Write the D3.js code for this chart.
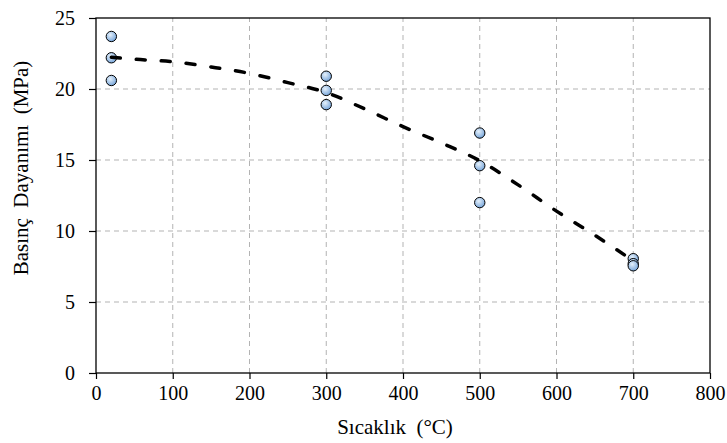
<!DOCTYPE html>
<html>
<head>
<meta charset="utf-8">
<script src="https://cdn.jsdelivr.net/npm/d3@7"></script>
<style>
  body { margin: 0; background: #fff; }
  svg text { font-family: "Times New Roman", "Liberation Serif", serif; fill: #000; }
</style>
</head>
<body>
<script>
// Measured points (temperature, strength)
const tempPoints = [20, 20, 20, 300, 300, 300, 500, 500, 500, 700, 700, 700];
const strengthPoints = [23.7, 22.2, 20.6, 20.9, 19.9, 18.9, 16.9, 14.6, 12.0, 8.05, 7.7, 7.55];

// Trend curve
const trendTemp = [20, 50, 100, 150, 200, 250, 300, 350, 400, 450, 500, 550, 600, 650, 700];
const trendStrength = [22.24, 22.1, 21.92, 21.55, 21.1, 20.45, 19.75, 18.6, 17.35, 16.2, 14.95, 13.25, 11.4, 9.7, 7.9];

const xTicks = [0, 100, 200, 300, 400, 500, 600, 700, 800];
const yTicks = [0, 5, 10, 15, 20, 25];

const width = 727;
const height = 443;
const margin = { top: 18, right: 17, bottom: 70, left: 96 };

const svg = d3.select('body')
    .append('svg')
    .attr('width', width)
    .attr('height', height);

const x = d3.scaleLinear().domain([0, 800]).range([margin.left, width - margin.right]);
const y = d3.scaleLinear().domain([0, 25]).range([height - margin.bottom, margin.top]);

// Radial fill for markers
const grad = svg.append('defs')
    .append('radialGradient')
    .attr('id', 'dot')
    .attr('cx', '40%').attr('cy', '35%').attr('r', '65%');
grad.append('stop').attr('offset', '0%').attr('stop-color', '#e6f1fb');
grad.append('stop').attr('offset', '100%').attr('stop-color', '#78a6da');

// Grid
svg.append('g')
    .selectAll('line')
    .data(xTicks.slice(1, -1))
    .join('line')
    .attr('x1', d => x(d)).attr('x2', d => x(d))
    .attr('y1', y(0)).attr('y2', y(25))
    .attr('stroke', '#b3b3b3')
    .attr('stroke-dasharray', '5,4');

svg.append('g')
    .selectAll('line')
    .data(yTicks.slice(1, -1))
    .join('line')
    .attr('x1', x(0)).attr('x2', x(800))
    .attr('y1', d => y(d)).attr('y2', d => y(d))
    .attr('stroke', '#b3b3b3')
    .attr('stroke-dasharray', '5,4');

// Axes
const xAxis = svg.append('g')
    .attr('transform', `translate(0,${y(0)})`)
    .call(d3.axisBottom(x).tickValues(xTicks).tickSize(6).tickPadding(7).tickFormat(d3.format('d')));

const yAxis = svg.append('g')
    .attr('transform', `translate(${x(0)},0)`)
    .call(d3.axisLeft(y).tickValues(yTicks).tickSize(7).tickPadding(14).tickFormat(d3.format('d')));

[xAxis, yAxis].forEach(a => {
  a.attr('font-family', null).attr('font-size', null);
  a.select('.domain').remove();
  a.selectAll('.tick line').attr('stroke', '#000').attr('stroke-width', 1.2);
  a.selectAll('.tick text')
      .style('font-size', '20px')
      .attr('fill', '#000');
});

// Frame
svg.append('rect')
    .attr('x', x(0)).attr('y', y(25))
    .attr('width', x(800) - x(0))
    .attr('height', y(0) - y(25))
    .attr('fill', 'none')
    .attr('stroke', '#000')
    .attr('stroke-width', 1.3);

// Points
svg.append('g')
    .selectAll('circle')
    .data(tempPoints.map((t, i) => [t, strengthPoints[i]]))
    .join('circle')
    .attr('cx', d => x(d[0]))
    .attr('cy', d => y(d[1]))
    .attr('r', 5.2)
    .attr('fill', 'url(#dot)')
    .attr('stroke', '#000')
    .attr('stroke-width', 1);

// Trend curve
const line = d3.line()
    .x(d => x(d[0]))
    .y(d => y(d[1]))
    .curve(d3.curveMonotoneX);

svg.append('path')
    .datum(trendTemp.map((t, i) => [t, trendStrength[i]]))
    .attr('d', line)
    .attr('fill', 'none')
    .attr('stroke', '#000')
    .attr('stroke-width', 3.5)
    .attr('stroke-linecap', 'round')
    .attr('stroke-dasharray', '9,16');

// Axis titles
svg.append('text')
    .attr('x', 395)
    .attr('y', 434)
    .attr('text-anchor', 'middle')
    .style('font-size', '21px')
    .style('white-space', 'pre')
    .text('Sıcaklık  (°C)');

svg.append('text')
    .attr('transform', 'translate(28,168) rotate(-90)')
    .attr('text-anchor', 'middle')
    .style('font-size', '21px')
    .style('white-space', 'pre')
    .text('Basınç  Dayanımı  (MPa)');
</script>
</body>
</html>
